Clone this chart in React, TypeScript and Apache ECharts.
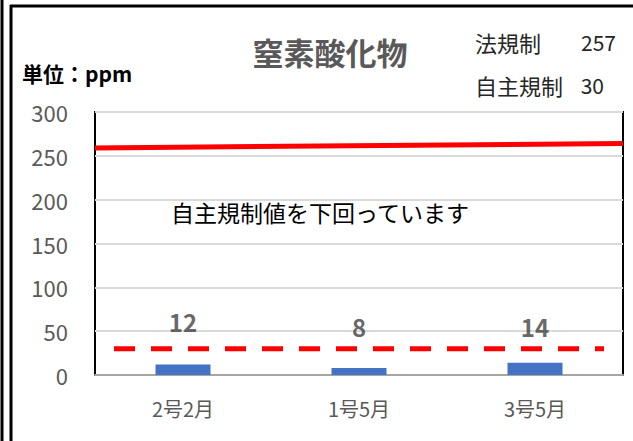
import React, { useEffect, useRef } from "react";
import * as echarts from "echarts";

const categories = ["2号2月", "1号5月", "3号5月"];
const measured = [12, 8, 14];
const yTicks = [0, 50, 100, 150, 200, 250, 300];
const lawLimitLine = [
  [0, 259],
  [1, 264],
];
const selfLimitLine = [
  [0.036, 30],
  [0.964, 30],
];
const labelLevel = [61, 55, 55];
const lawLimit = 257;
const selfLimit = 30;

const JP = '"Noto Sans CJK JP", "Noto Sans", sans-serif';

export default function App() {
  const ref = useRef<HTMLDivElement>(null);
  useEffect(() => {
    if (!ref.current) return;
    document.body.style.margin = "0";
    const chart = echarts.init(ref.current, null, { renderer: "svg" });
    chart.setOption({
      animation: false,
      backgroundColor: "#ffffff",
      grid: {
        left: 95,
        top: 112,
        width: 528,
        height: 263,
        show: true,
        borderColor: "#000000",
        borderWidth: 2,
        backgroundColor: "transparent",
      },
      xAxis: [
        {
          type: "category",
          data: categories,
          axisLine: { show: true, lineStyle: { color: "#a6a6a6", width: 2 } },
          axisTick: { show: false },
          axisLabel: {
            color: "#595959",
            fontSize: 20,
            fontFamily: JP,
            margin: 23,
          },
        },
        {
          type: "value",
          min: 0,
          max: 1,
          show: false,
        },
      ],
      yAxis: {
        type: "value",
        min: yTicks[0],
        max: yTicks[yTicks.length - 1],
        interval: 50,
        axisLine: { show: false },
        axisTick: { show: false },
        axisLabel: {
          color: "#595959",
          fontSize: 22,
          fontFamily: JP,
          margin: 27,
        },
        splitLine: { lineStyle: { color: "#d9d9d9", width: 2 } },
      },
      series: [
        {
          type: "bar",
          data: measured,
          barWidth: 55,
          itemStyle: { color: "#4472c4" },
          z: 2,
        },
        {
          type: "scatter",
          data: measured.map((v, i) => [i, labelLevel[i]]),
          symbolSize: 0,
          label: {
            show: true,
            position: "inside",
            formatter: (p: any) => String(measured[p.dataIndex]),
            color: "#404040",
            fontSize: 24,
            fontWeight: "bold",
            fontFamily: JP,
          },
          z: 5,
        },
        {
          type: "line",
          xAxisIndex: 1,
          data: lawLimitLine,
          symbol: "none",
          lineStyle: { color: "#ff0000", width: 5 },
          z: 4,
        },
        {
          type: "line",
          xAxisIndex: 1,
          data: selfLimitLine,
          symbol: "none",
          lineStyle: { color: "#ff0000", width: 5, type: [21, 16], cap: "butt" },
          z: 4,
        },
      ],
      graphic: [
        { type: "line", shape: { x1: 2, y1: 0, x2: 2, y2: 441 }, style: { stroke: "#000", lineWidth: 3 } },
        { type: "line", shape: { x1: 11, y1: 5, x2: 11, y2: 441 }, style: { stroke: "#000", lineWidth: 3 } },
        { type: "line", shape: { x1: 10, y1: 6, x2: 633, y2: 6 }, style: { stroke: "#000", lineWidth: 3 } },
        {
          type: "text",
          x: 330,
          y: 51,
          style: {
            text: "窒素酸化物",
            fill: "#595959",
            font: `bold 31px ${JP}`,
            align: "center",
            verticalAlign: "middle",
          },
        },
        {
          type: "text",
          x: 22,
          y: 73,
          style: {
            text: "単位：ppm",
            fill: "#000000",
            font: `bold 21px ${JP}`,
            align: "left",
            verticalAlign: "middle",
          },
        },
        {
          type: "text",
          x: 475,
          y: 42,
          style: {
            text: "法規制",
            fill: "#262626",
            font: `22px ${JP}`,
            align: "left",
            verticalAlign: "middle",
          },
        },
        {
          type: "text",
          x: 616,
          y: 42,
          style: {
            text: String(lawLimit),
            fill: "#262626",
            font: `21px ${JP}`,
            align: "right",
            verticalAlign: "middle",
          },
        },
        {
          type: "text",
          x: 475,
          y: 85,
          style: {
            text: "自主規制",
            fill: "#262626",
            font: `22px ${JP}`,
            align: "left",
            verticalAlign: "middle",
          },
        },
        {
          type: "text",
          x: 604,
          y: 85,
          style: {
            text: String(selfLimit),
            fill: "#262626",
            font: `21px ${JP}`,
            align: "right",
            verticalAlign: "middle",
          },
        },
        {
          type: "text",
          x: 320,
          y: 212,
          style: {
            text: "自主規制値を下回っています",
            fill: "#000000",
            font: `23px ${JP}`,
            align: "center",
            verticalAlign: "middle",
          },
        },
      ],
    });
    return () => chart.dispose();
  }, []);
  return (
    <div
      ref={ref}
      style={{ position: "fixed", left: 0, top: 0, width: 633, height: 441 }}
    />
  );
}
